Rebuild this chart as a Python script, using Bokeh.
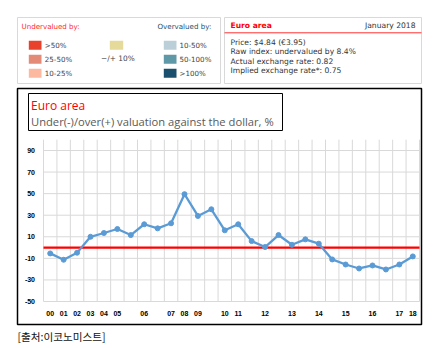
from bokeh.plotting import figure
from bokeh.models import Range1d
from bokeh.core.properties import value
from bokeh.embed import file_html
from bokeh.resources import INLINE

# ---------------- data ----------------
X_LABELS = ["00", "01", "02", "03", "04", "05", "", "06", "", "07", "08", "09", "",
            "10", "11", "", "12", "", "13", "", "14", "", "15", "", "16", "", "17", "18"]
VALUATION = [-5.4, -11.3, -4.8, 10.0, 13.5, 17.2, 11.6, 21.6, 17.8, 22.5, 49.5, 29.3, 35.5,
             16.0, 21.6, 6.0, 0.5, 11.6, 2.6, 7.6, 3.6, -11.0, -15.7, -19.4, -16.6, -20.3, -15.7, -8.2]
Y_TICKS = [-50, -30, -10, 10, 30, 50, 70, 90]
Y_MIN, Y_MAX = -50, 100

UNDER_LABELS = [">50%", "25-50%", "10-25%"]
UNDER_COLORS = ["#E8412C", "#E38B77", "#FDB8A0"]
OVER_LABELS = ["10-50%", "50-100%", ">100%"]
OVER_COLORS = ["#BBCFD9", "#5F98A6", "#1B4F6E"]
NEUTRAL_LABEL = "\u2212/+ 10%"
NEUTRAL_COLOR = "#E6DA9A"

INFO_TITLE = "Euro area"
INFO_DATE = "January 2018"
INFO_LINES = ["Price: $4.84 (\u20ac3.95)",
              "Raw index: undervalued by 8.4%",
              "Actual exchange rate: 0.82",
              "Implied exchange rate*: 0.75"]
CHART_TITLE = "Euro area"
CHART_SUBTITLE = "Under(-)/over(+) valuation against the dollar, %"
SOURCE = "[출처:이코노미스트]"

# ---------------- layout (pixels) ----------------
W, H = 438, 348
PL, PR, PT, PB = 43, 419, 139.2, 301   # plot area
n = len(VALUATION)

p = figure(width=W, height=H, output_backend="svg", toolbar_location=None,
           x_range=Range1d(0, W), y_range=Range1d(H, 0),
           min_border=0, min_border_left=0, min_border_right=0,
           min_border_top=0, min_border_bottom=0)
p.axis.visible = False
p.grid.visible = False
p.outline_line_color = None
p.background_fill_color = "white"
p.border_fill_color = "white"

# category range and value range mapped onto the plot area
cpp = n / (PR - PL)                       # categories per pixel
cat_start = -0.5 - PL * cpp
cat_end = cat_start + W * cpp
vpp = (Y_MAX - Y_MIN) / (PB - PT)         # value per pixel
val_start = Y_MIN - (H - PB) * vpp
val_end = val_start + H * vpp
p.extra_x_ranges = {"cat": Range1d(cat_start, cat_end)}
p.extra_y_ranges = {"val": Range1d(val_start, val_end)}

FS = "7.1px"
# ---------- top legend box ----------
p.quad(left=17, right=220, top=17, bottom=83, fill_color="white", line_color="#D9D9D9", line_width=1)
p.text(x=[21], y=[26], text=["Undervalued by:"], text_color="#FF2A2A",
       text_font=value("DejaVu Sans"), text_font_size=FS, text_baseline="middle")
p.text(x=[157], y=[26], text=["Overvalued by:"], text_color="#1F4E6B",
       text_font=value("DejaVu Sans"), text_font_size=FS, text_baseline="middle")
rows = [44.7, 58.7, 72.7]
p.quad(left=[28.3] * 3, right=[41] * 3, top=[r - 4.5 for r in rows], bottom=[r + 4.5 for r in rows],
       fill_color=UNDER_COLORS, line_color=None)
p.text(x=[44.3] * 3, y=rows, text=UNDER_LABELS, text_color="#444444",
       text_font=value("DejaVu Sans"), text_font_size=FS, text_baseline="middle")
p.quad(left=[163.3] * 3, right=[176] * 3, top=[r - 4.5 for r in rows], bottom=[r + 4.5 for r in rows],
       fill_color=OVER_COLORS, line_color=None)
p.text(x=[179] * 3, y=rows, text=OVER_LABELS, text_color="#444444",
       text_font=value("DejaVu Sans"), text_font_size=FS, text_baseline="middle")
p.quad(left=[109.3], right=[122.7], top=[40.2], bottom=[49.2], fill_color=NEUTRAL_COLOR, line_color=None)
p.text(x=[100.5], y=[58.3], text=[NEUTRAL_LABEL], text_color="#444444",
       text_font=value("DejaVu Sans"), text_font_size="7.4px", text_baseline="middle")

# ---------- info box ----------
p.quad(left=224, right=421, top=17, bottom=83, fill_color="white", line_color="#D9D9D9", line_width=1)
p.segment(x0=[224], y0=[32.3], x1=[421], y1=[32.3], line_color="#FF3333", line_width=1)
p.text(x=[230], y=[25], text=[INFO_TITLE], text_color="#FF0000", text_font_style="bold",
       text_font=value("DejaVu Sans"), text_font_size="7.6px", text_baseline="middle")
p.text(x=[415], y=[25], text=[INFO_DATE], text_color="#333333", text_align="right",
       text_font=value("DejaVu Sans"), text_font_size="7.6px", text_baseline="middle")
p.text(x=[230] * 4, y=[41.7, 50.9, 60.6, 70.0], text=INFO_LINES, text_color="#333333",
       text_font=value("DejaVu Sans"), text_font_size="7.6px", text_baseline="middle")

# ---------- chart box ----------
p.quad(left=17, right=421, top=88, bottom=324, fill_color="white", line_color="black", line_width=1.5)
p.quad(left=28, right=282, top=93, bottom=130, fill_color="white", line_color="black", line_width=1)
p.text(x=[30.5], y=[104.5], text=[CHART_TITLE], text_color="#FF0000",
       text_font=value("Open Sans"), text_font_size="12px", text_baseline="middle")
p.text(x=[30.5], y=[121.3], text=[CHART_SUBTITLE], text_color="#595959",
       text_font=value("Open Sans"), text_font_size="11.2px", text_baseline="middle")

# grid lines (category boundaries and value ticks)
bounds = [i - 0.5 for i in range(n + 1)]
p.segment(x0=bounds, y0=[Y_MIN] * len(bounds), x1=bounds, y1=[Y_MAX] * len(bounds),
          line_color="#D9D9D9", line_width=1, x_range_name="cat", y_range_name="val")
p.segment(x0=[-0.5] * len(Y_TICKS), y0=Y_TICKS, x1=[n - 0.5] * len(Y_TICKS), y1=Y_TICKS,
          line_color="#D9D9D9", line_width=1, x_range_name="cat", y_range_name="val")

# tick labels
p.text(x=[34.5] * len(Y_TICKS), y=Y_TICKS, text=[str(t) for t in Y_TICKS], text_align="right",
       text_baseline="middle", text_color="black", text_font_style="bold",
       text_font=value("Liberation Sans"), text_font_size="7px", y_range_name="val")
p.text(x=list(range(n)), y=[312.5] * n, text=X_LABELS, text_align="center",
       text_baseline="middle", text_color="black", text_font_style="bold",
       text_font=value("Liberation Sans"), text_font_size="7px", x_range_name="cat")

# zero line
p.segment(x0=[-0.5], y0=[0], x1=[n - 0.5], y1=[0], line_color="#FF0000", line_width=2.3,
          x_range_name="cat", y_range_name="val")

# data
xs = list(range(n))
p.line(xs, VALUATION, line_color="#5B9BD5", line_width=2.3, x_range_name="cat", y_range_name="val")
p.scatter(xs, VALUATION, size=5, fill_color="#5B9BD5", line_color="#5B9BD5",
          x_range_name="cat", y_range_name="val")

# source
p.text(x=[17], y=[336], text=[SOURCE], text_color="#111111",
       text_font=value("Noto Sans CJK KR"), text_font_size="10.6px", text_baseline="middle")

open("out.html", "w").write(file_html(p, INLINE))
